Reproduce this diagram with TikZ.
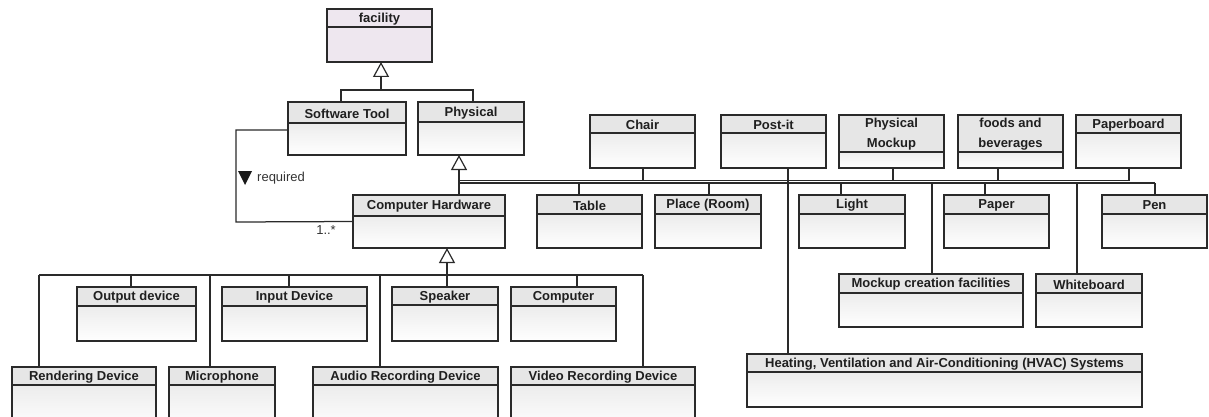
\documentclass[tikz,border=0pt]{standalone}
\usepackage{fontspec}
\setmainfont{Liberation Sans}
\usetikzlibrary{arrows.meta,calc}
\definecolor{hdr}{HTML}{E6E6E6}
\definecolor{bodytop}{HTML}{ECECEC}
\definecolor{facil}{HTML}{EEE7EF}
\definecolor{ln}{HTML}{2A2A2A}
% #1 extra style, #2 name, #3 x1, #4 y1, #5 x2, #6 y2, #7 header bottom, #8 title
\newcommand\umlcls[8][]{%
  \shade[bodyshade,#1] (#3,#7) rectangle (#5,#6);
  \fill[headfill,#1] (#3,#4) rectangle (#5,#7);
  \draw[frame] (#3,#7) -- (#5,#7);
  \node[clsframe, minimum width={(#5-#3)*1pt}, minimum height={(#6-#4)*1pt}, anchor=north west] (#2) at (#3,#4) {};
  \node[clstitle] (#2-title) at ({(#3+#5)/2},{(#4+#7)/2+1}) {#8};
}
\begin{document}
\begin{tikzpicture}[x=1pt,y=-1pt,
  frame/.style={draw=ln,line width=1.3pt},
  clsframe/.style={draw=ln,line width=1.3pt,rectangle,inner sep=0pt,outer sep=0pt},
  headfill/.style={fill=hdr},
  bodyshade/.style={top color=bodytop,bottom color=white},
  clstitle/.style={font=\bfseries\fontsize{13}{20}\selectfont,text=black!88,align=center,inner sep=0pt},
  conn/.style={draw=ln,line width=1.25pt},
  gen/.style={draw=ln,line width=2.4pt,-{Triangle[open,fill=white,length=15pt,width=16pt,line width=1.2pt]}},
  lbl/.style={font=\fontsize{13}{15}\selectfont,text=black!80,inner sep=0pt}]
\useasboundingbox (0,0) rectangle (1209,417);
\clip (0,0) rectangle (1209,417);

% classes
\umlcls[top color=facil,bottom color=facil,fill=facil]{facility}{327}{9}{432}{62}{27}{facility}
\umlcls{soft}{288}{102}{406}{155}{123}{Software Tool}
\umlcls{phys}{418}{102}{524}{155}{122}{Physical}
\umlcls{hw}{353}{195}{505}{248}{216}{Computer Hardware}
\umlcls{out}{77}{287}{196}{341}{306}{Output device}
\umlcls{inp}{222}{287}{367}{341}{306}{Input Device}
\umlcls{spk}{392}{287}{498}{341}{305}{Speaker}
\umlcls{comp}{511}{287}{616}{341}{306}{Computer}
\umlcls{rend}{12}{367}{156}{430}{385}{Rendering Device}
\umlcls{mic}{169}{367}{275}{430}{385}{Microphone}
\umlcls{aud}{313}{367}{498}{430}{385}{Audio Recording Device}
\umlcls{vid}{511}{367}{695}{430}{385}{Video Recording Device}
\umlcls{chair}{590}{115}{695}{168}{133}{Chair}
\umlcls{postit}{721}{115}{826}{168}{133}{Post-it}
\umlcls{mock}{839}{115}{944}{168}{152}{Physical\\Mockup}
\umlcls{food}{958}{115}{1063}{168}{152}{foods and\\beverages}
\umlcls{pboard}{1076}{115}{1181}{168}{133}{Paperboard}
\umlcls{table}{537}{195}{642}{248}{214}{Table}
\umlcls{place}{655}{195}{761}{248}{214}{Place (Room)}
\umlcls{light}{799}{195}{905}{248}{214}{Light}
\umlcls{paper}{944}{195}{1049}{248}{214}{Paper}
\umlcls{pen}{1102}{195}{1207}{248}{214}{Pen}
\umlcls{mcf}{839}{274}{1023}{327}{293}{Mockup creation facilities}
\umlcls{wb}{1036}{274}{1142}{327}{293}{Whiteboard}
\umlcls{hvac}{747}{354}{1142}{407}{372}{Heating, Ventilation and Air-Conditioning (HVAC) Systems}

% generalization: facility
\coordinate (g1) at (381,90);
\coordinate (s1) at (341,90);
\coordinate (s2) at (473,90);
\draw[conn] (s1 |- soft.north) -- (s1) -- (s2) -- (s2 |- phys.north);
\draw[gen] (g1) -- (g1 |- facility.south);

% generalization: Physical (two parallel bus lines)
\coordinate (g2) at (459,183);
\coordinate (u1) at (459,180.5);
\coordinate (u2) at (1129,180.5);
\coordinate (bend) at (1155,183);
\draw[conn] (u1) -- (u2);
\draw[conn] (g2) -- (bend);
\draw[gen] (g2) -- (g2 |- phys.south);
\draw[conn] (g2) -- (g2 |- hw.north);
\foreach \x/\n in {579/table,709/place,841/light,985/paper,1155/pen,932/mcf,1077/wb}{
  \coordinate (t) at (\x,183);
  \draw[conn] (t) -- (t |- \n.north);
}
\foreach \x/\n in {643/chair,893/mock,998/food,1129/pboard}{
  \coordinate (t) at (\x,180.5);
  \draw[conn] (t) -- (t |- \n.south);
}
\coordinate (pc) at (788,182);
\draw[conn] (pc |- postit.south) -- (pc |- hvac.north);

% generalization: Computer Hardware
\coordinate (g3) at (447,275);
\coordinate (h1) at (39,275);
\coordinate (h2) at (643,275);
\draw[conn] (h1) -- (h2);
\draw[gen] (g3) -- (g3 |- hw.south);
\foreach \x/\n in {39/rend,131/out,210/mic,289/inp,380/aud,447/spk,577/comp,643/vid}{
  \coordinate (t) at (\x,275);
  \draw[conn] (t) -- (t |- \n.north);
}

% association "required"
\coordinate (r1) at (236,222);
\draw[conn] ([yshift=-1.5pt]soft.west) -| (r1) -- (hw.west);
\fill[black!90] (238,171) -- (252,171) -- (245,185) -- cycle;
\node[lbl,anchor=west] (req) at (257,178.5) {required};
\node[lbl,anchor=east] (mult) at (336,230) {1..*};
\end{tikzpicture}
\end{document}
